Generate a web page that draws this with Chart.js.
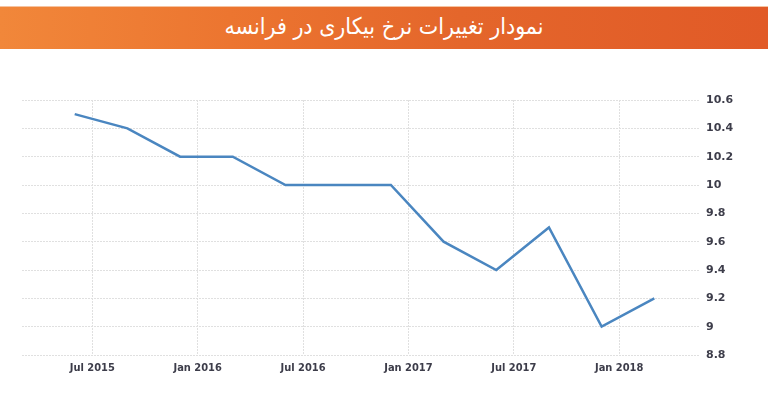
<!DOCTYPE html>
<html>
<head>
<meta charset="utf-8">
<script src="https://cdn.jsdelivr.net/npm/chart.js@4.4.1/dist/chart.umd.min.js"></script>
<style>
  html, body { margin: 0; padding: 0; background: #fff; }
  body { width: 768px; height: 400px; position: relative; overflow: hidden; }
  #banner {
    position: absolute; left: 0; top: 6px; width: 768px; height: 42px;
    background: linear-gradient(90deg, #f1873a 0%, #ec7530 30%, #e4662b 60%, #e15a27 100%);
    border-top: 1px solid #f6c3a0;
    color: #fff; text-align: center;
    font-family: "DejaVu Sans Condensed", "DejaVu Sans", sans-serif;
    font-size: 23px; line-height: 38px;
  }
  #wrap { position: absolute; left: 0; top: 50px; width: 768px; height: 350px; }
</style>
</head>
<body>
<div id="banner" dir="rtl">نمودار تغییرات نرخ بیکاری در فرانسه</div>
<div id="wrap"><canvas id="unemployment-chart"></canvas></div>
<script>
// quarterly readings (month of release) and unemployment rate, %
var periods = ["2015-06", "2015-09", "2015-12", "2016-03", "2016-06", "2016-09",
               "2016-12", "2017-03", "2017-06", "2017-09", "2017-12", "2018-03"];
var rates = [10.5, 10.4, 10.2, 10.2, 10.0, 10.0, 10.0, 9.6, 9.4, 9.7, 9.0, 9.2];

// x axis tick labels
var tickPeriods = ["2015-07", "2016-01", "2016-07", "2017-01", "2017-07", "2018-01"];
var tickLabels = ["Jul 2015", "Jan 2016", "Jul 2016", "Jan 2017", "Jul 2017", "Jan 2018"];

// months counted from Jan 2015
function monthIndex(p) {
  var parts = p.split("-");
  return (parseInt(parts[0]) - 2015) * 12 + parseInt(parts[1]) - 1;
}

var points = periods.map(function (p, i) {
  return { x: monthIndex(p), y: rates[i] };
});
var tickMonths = tickPeriods.map(monthIndex);

var gridColor = "#e0e0e0";
var labelColor = "#3d3d4a";

new Chart(document.getElementById("unemployment-chart"), {
  type: "line",
  data: {
    datasets: [
      {
        data: points,
        borderColor: "#4a86c0",
        backgroundColor: "#4a86c0",
        borderWidth: 2.5,
        pointRadius: 0,
        tension: 0,
        fill: false,
      },
    ],
  },
  options: {
    responsive: true,
    maintainAspectRatio: false,
    animation: false,
    layout: { padding: { top: 50, left: 22, right: 0, bottom: 0 } },
    plugins: {
      legend: { display: false },
      tooltip: { enabled: false },
    },
    scales: {
      x: {
        type: "linear",
        min: 2,
        max: 40.6,
        border: { display: false, dash: [2, 1] },
        grid: { color: gridColor, drawTicks: false },
        afterBuildTicks: function (axis) {
          axis.ticks = tickMonths.map(function (m) {
            return { value: m };
          });
        },
        afterFit: function (axis) {
          axis.height = 45;
        },
        ticks: {
          padding: 7,
          color: labelColor,
          font: { family: "'DejaVu Sans Condensed', 'DejaVu Sans', sans-serif", size: 11, weight: "bold" },
          maxRotation: 0,
          callback: function (value) {
            var i = tickMonths.indexOf(value);
            return i >= 0 ? tickLabels[i] : "";
          },
        },
      },
      y: {
        position: "right",
        min: 8.8,
        max: 10.6,
        border: { display: false, dash: [2, 1] },
        grid: { color: gridColor, drawTicks: false },
        afterFit: function (axis) {
          axis.width = 68;
        },
        ticks: {
          stepSize: 0.2,
          padding: 6,
          color: labelColor,
          font: { family: "'DejaVu Sans', sans-serif", size: 11, weight: "bold" },
          callback: function (value) {
            return String(Number(value.toFixed(1)));
          },
        },
      },
    },
  },
});
</script>
</body>
</html>
